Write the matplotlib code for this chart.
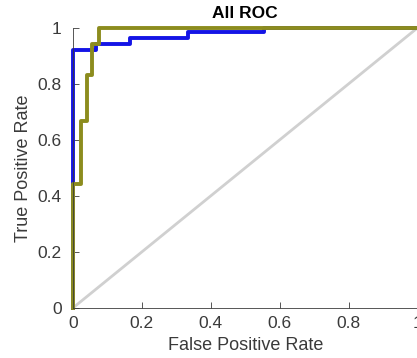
import matplotlib
matplotlib.use("Agg")
from matplotlib import pyplot as plt

plt.rcParams['font.family'] = ['Liberation Sans', 'DejaVu Sans']

# ROC curves (step curves)
blue_fpr = [0, 0, 0.067, 0.067, 0.165, 0.165, 0.333, 0.333, 0.556, 0.556, 1]
blue_tpr = [0, 0.922, 0.922, 0.943, 0.943, 0.963, 0.963, 0.987, 0.987, 1, 1]

olive_fpr = [0, 0, 0.022, 0.022, 0.04, 0.04, 0.055, 0.055, 0.075, 0.075, 1]
olive_tpr = [0, 0.444, 0.444, 0.667, 0.667, 0.833, 0.833, 0.944, 0.944, 1, 1]

diag = [0, 1]
xticks = [0, 0.2, 0.4, 0.6, 0.8, 1]
yticks = [0, 0.2, 0.4, 0.6, 0.8, 1]
ticklabels = ['0', '0.2', '0.4', '0.6', '0.8', '1']

fig = plt.figure(figsize=(4.17, 3.58), dpi=100)
ax = fig.add_axes([0.175, 0.14, 0.826, 0.782])

ax.plot(diag, diag, color='#d0d0d0', lw=2)
ax.plot(blue_fpr, blue_tpr, color='#1414e6', lw=2.8, clip_on=False)
ax.plot(olive_fpr, olive_tpr, color='#8c8c1e', lw=2.8, clip_on=False)

ax.set_xlim(0, 1)
ax.set_ylim(0, 1)
ax.set_xticks(xticks)
ax.set_yticks(yticks)
ax.set_xticklabels(ticklabels)
ax.set_yticklabels(ticklabels)
ax.tick_params(direction='in', length=4, labelsize=12.5, colors='#3a3a3a', width=0.6)
ax.tick_params(axis='x', pad=6)
ax.tick_params(axis='y', pad=8)
ax.spines['top'].set_visible(False)
ax.spines['right'].set_visible(False)
for s in ['left', 'bottom']:
    ax.spines[s].set_color('#3a3a3a')
    ax.spines[s].set_linewidth(0.6)

ax.set_xlabel('False Positive Rate', fontsize=13, color='#3a3a3a', labelpad=4)
ax.set_ylabel('True Positive Rate', fontsize=13, color='#3a3a3a', labelpad=4)
ax.set_title('All ROC', fontsize=12.5, fontweight='bold', pad=7)

fig.savefig('out.png', dpi=100)
